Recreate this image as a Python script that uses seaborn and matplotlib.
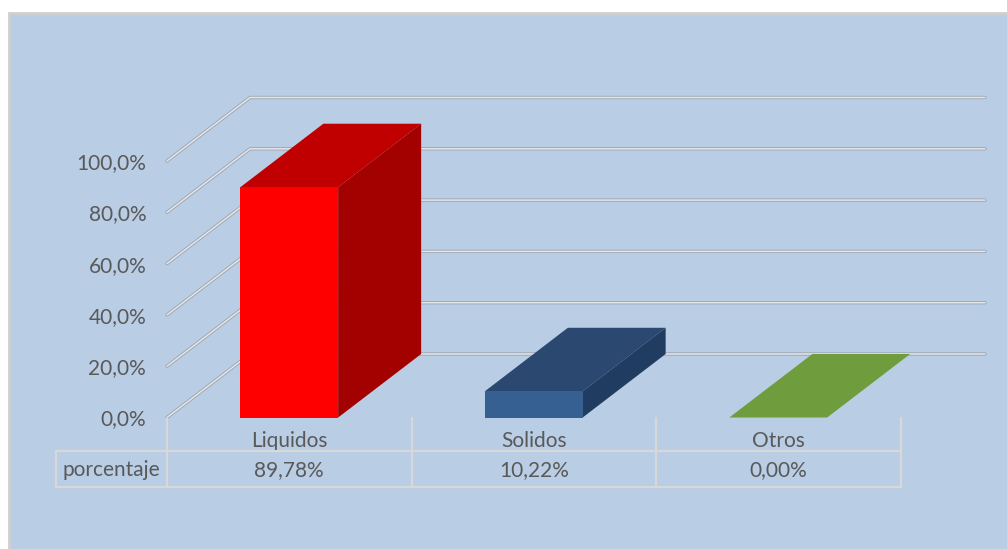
import matplotlib
matplotlib.use("Agg")
import matplotlib.pyplot as plt
from matplotlib.patches import Polygon, Rectangle
from matplotlib.ticker import FuncFormatter
import pandas as pd
import seaborn as sns

categories = ["Liquidos", "Solidos", "Otros"]
values = [89.78, 10.22, 0.0]
value_labels = ["89,78%", "10,22%", "0,00%"]
row_label = "porcentaje"
front_colors = ["#FF0000", "#376092", "#70A03A"]
top_colors = ["#C00000", "#2A4870", "#6F9C3D"]
side_colors = ["#A30000", "#203C60", "#6F9C3D"]
y_ticks = [0, 20, 40, 60, 80, 100]

W, H = 1007, 549
BG = "#B9CDE5"
TXT = "#595959"
LINE = "#D8D8D8"
FS = 15

sns.set_theme(style="white")
plt.rcParams["font.family"] = ["Lato", "DejaVu Sans"]

fig = plt.figure(figsize=(W / 100, H / 100), dpi=100, facecolor="white")
fig.add_artist(Rectangle((9 / W, -0.01), 1.1, 1 - 13 / H + 0.01, transform=fig.transFigure,
                         facecolor=BG, edgecolor="#CFCFCF", linewidth=2, zorder=-1))

L, R, B, T = 167, 900.5, 417.5, 161
ax = fig.add_axes([L / W, 1 - B / H, (R - L) / W, (B - T) / H])
ax.patch.set_alpha(0)
df = pd.DataFrame({"cat": categories, "val": values})
sns.barplot(data=df, x="cat", y="val", hue="cat", palette=front_colors, width=0.4,
            dodge=False, legend=False, ax=ax, saturation=1, zorder=5, linewidth=0)
ax.set_xlim(-0.5, 2.5)
ax.set_ylim(0, 100)
ax.set_xlabel("")
ax.set_ylabel("")
sns.despine(ax=ax, left=True, bottom=True)

px_x = (R - L) / 3
px_y = (B - T) / 100
dx = 83 / px_x
dy = 63.5 / px_y
x_end = (985 - L) / px_x - 0.5

# floor and back-wall gridlines
for v in y_ticks:
    xs = [-0.5, -0.5 + dx, x_end]
    ys = [v, v + dy, v + dy]
    ax.plot(xs, ys, color="#9CA6B4", lw=2.4, clip_on=False, zorder=1, solid_capstyle="round")
    ax.plot(xs, ys, color="#E6E6E6", lw=1.1, clip_on=False, zorder=2, solid_capstyle="round")

# 3D faces of each bar, from the bars that seaborn drew
for p, tc, sc in zip(list(ax.patches), top_colors, side_colors):
    x0, w, h = p.get_x(), p.get_width(), p.get_height()
    x1 = x0 + w
    ax.add_patch(Polygon([(x0, h), (x1, h), (x1 + dx, h + dy), (x0 + dx, h + dy)],
                         facecolor=tc, edgecolor="none", clip_on=False, zorder=4))
    if h > 0:
        ax.add_patch(Polygon([(x1, 0), (x1 + dx, dy), (x1 + dx, h + dy), (x1, h)],
                             facecolor=sc, edgecolor="none", clip_on=False, zorder=4))

ax.set_yticks(y_ticks)
ax.yaxis.set_major_formatter(FuncFormatter(lambda v, _: f"{v:.1f}".replace(".", ",") + "%"))
ax.tick_params(axis="y", length=0, pad=15, labelsize=FS, labelcolor=TXT)
for lab in ax.get_yticklabels():
    lab.set_verticalalignment("center_baseline")
ax.set_xticks(range(len(categories)))
ax.set_xticklabels(categories)
ax.tick_params(axis="x", length=0, pad=9.5, labelsize=FS, labelcolor=TXT)

# data table beneath the axis
y_mid = -(451 - B) / px_y
y_bot = -(487 - B) / px_y
x_left = -0.5 - (L - 56) / px_x
kw = dict(color=LINE, lw=1.6, clip_on=False, zorder=3)
for yy in (y_mid, y_bot):
    ax.plot([x_left, 2.5], [yy, yy], **kw)
ax.plot([x_left, x_left], [y_mid, y_bot], **kw)
for xx in (-0.5, 0.5, 1.5, 2.5):
    ax.plot([xx, xx], [0, y_bot], **kw)
y_txt = (y_mid + y_bot) / 2 - 1.5 / px_y
for i, s in enumerate(value_labels):
    ax.text(i, y_txt, s, ha="center", va="center", fontsize=FS, color=TXT)
ax.text((x_left - 0.5) / 2, y_txt, row_label, ha="center", va="center", fontsize=FS, color=TXT)

fig.savefig("out.png", dpi=100, facecolor="white")
